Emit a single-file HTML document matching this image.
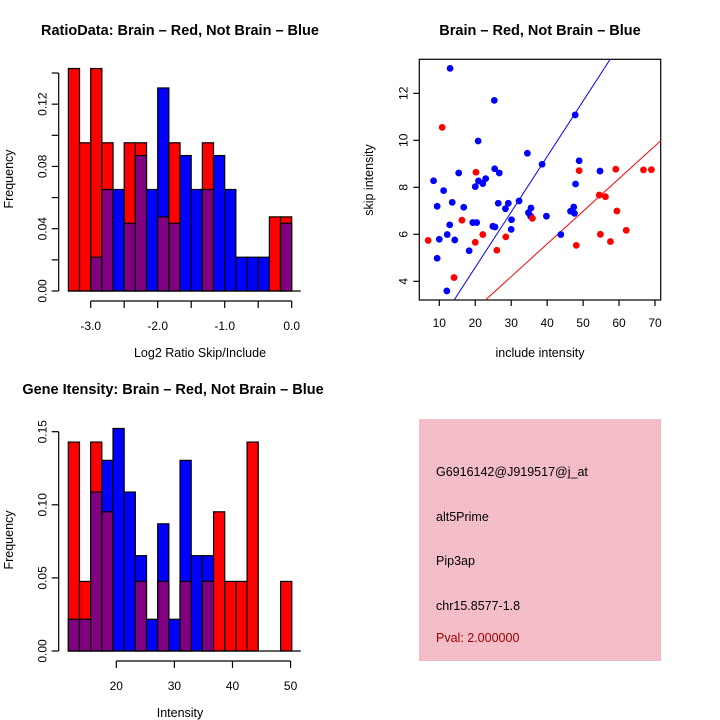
<!DOCTYPE html>
<html><head><meta charset="utf-8"><style>
html,body{margin:0;padding:0;background:#fff;}
svg{display:block;font-family:"Liberation Sans",sans-serif;}
</style></head><body>
<svg id="s" width="720" height="720" viewBox="0 0 720 720">
<defs>
<pattern id="pk" width="2" height="2" patternUnits="userSpaceOnUse"><rect width="2" height="2" fill="#f7c0cb"/><rect width="1" height="1" fill="#e8b4c0"/></pattern>
</defs>
<text x="180" y="35" text-anchor="middle" font-size="14.5" font-weight="bold">RatioData: Brain – Red, Not Brain – Blue</text>
<text x="540" y="35" text-anchor="middle" font-size="14.5" font-weight="bold">Brain – Red, Not Brain – Blue</text>
<text x="173" y="394" text-anchor="middle" font-size="14.5" font-weight="bold">Gene Itensity: Brain – Red, Not Brain – Blue</text>
<text x="200" y="357" text-anchor="middle" font-size="12.5">Log2 Ratio Skip/Include</text>
<text transform="translate(13,179) rotate(-90)" text-anchor="middle" font-size="12.5">Frequency</text>
<text x="540" y="357" text-anchor="middle" font-size="12.5">include intensity</text>
<text transform="translate(373,180) rotate(-90)" text-anchor="middle" font-size="12.5">skip intensity</text>
<text x="180" y="717" text-anchor="middle" font-size="12.5">Intensity</text>
<text transform="translate(13,540) rotate(-90)" text-anchor="middle" font-size="12.5">Frequency</text>
<g>
<rect x="419" y="419" width="242" height="242" fill="url(#pk)"/>
<text x="436" y="476" font-size="12.5">G6916142@J919517@j_at</text>
<text x="436" y="521" font-size="12.5">alt5Prime</text>
<text x="436" y="565" font-size="12.5">Pip3ap</text>
<text x="436" y="610" font-size="12.5">chr15.8577-1.8</text>
<text x="436" y="642" font-size="12.5" fill="#a00000">Pval: 2.000000</text>
</g>
<g id="g1"></g><g id="g2"></g><g id="g3"></g>
</svg>
<script>
// Ratio histogram data (20 bins, -3.333..0)
const ratioRed = [0.1429,0.0952,0.1429,0.0952,0,0.0952,0.0952,0,0.0476,0.0952,0,0,0.0952,0,0,0,0,0,0.0476,0.0476];
const ratioBlue = [0,0,0.0217,0.0652,0.0652,0.0435,0.087,0.0652,0.1304,0.0435,0.087,0.0652,0.0652,0.087,0.0652,0.0217,0.0217,0.0217,0,0.0435];
const ratioXTicks = ["-3.0","-2.0","-1.0","0.0"];
const ratioXTickVals = [-3,-2,-1,0];
const ratioYTicks = ["0.00","0.04","0.08","0.12"];
const ratioYTickVals = [0,0.04,0.08,0.12];
// Intensity histogram data (20 bins, 11.74..50.2)
const intRed = [0.1429,0.0476,0.1429,0.0952,0,0,0.0476,0,0.0476,0,0.0476,0,0.0476,0.0952,0.0476,0.0476,0.1429,0,0,0.0476];
const intBlue = [0.0217,0.0217,0.1087,0.1304,0.1522,0.1087,0.0652,0.0217,0.087,0.0217,0.1304,0.0652,0.0652,0,0,0,0,0,0,0];
const intXTicks = ["20","30","40","50"];
const intXTickVals = [20,30,40,50];
const intYTicks = ["0.00","0.05","0.10","0.15"];
const intYTickVals = [0,0.05,0.10,0.15];
// Scatter data
const blueX = [13.0,25.3,47.8,20.8,34.5,38.6,48.9,25.4,8.4,15.4,26.7,20.9,22.1,22.9,20.0,47.9,54.7,11.2,9.4,13.6,16.8,26.4,29.2,28.4,32.2,35.5,34.8,35.4,39.8,30.1,30.0,46.5,47.4,47.6,12.9,19.3,20.4,24.9,25.5,12.2,10.0,14.3,18.3,9.4,43.8,12.1];
const blueY = [13.06,11.7,11.08,9.97,9.45,8.98,9.13,8.79,8.28,8.61,8.61,8.27,8.16,8.37,8.03,8.14,8.69,7.86,7.19,7.36,7.15,7.32,7.32,7.09,7.42,7.12,6.92,6.77,6.77,6.62,6.21,6.98,7.16,6.89,6.40,6.50,6.50,6.34,6.31,5.99,5.79,5.76,5.30,4.98,5.99,3.59];
const redX = [10.8,20.2,48.9,59.1,66.8,69.0,54.5,56.2,59.4,16.3,35.9,22.1,6.9,20.0,28.5,26.0,54.8,57.6,62.0,48.1,14.1];
const redY = [10.55,8.64,8.71,8.77,8.74,8.75,7.67,7.60,6.99,6.60,6.68,5.99,5.74,5.66,5.89,5.32,6.00,5.69,6.17,5.53,4.16];
const blueFit = [-0.13,0.236];
const redFit = [0.03,0.139];
const scXTicks = ["10","20","30","40","50","60","70"];
const scXTickVals = [10,20,30,40,50,60,70];
const scYTicks = ["4","6","8","10","12"];
const scYTickVals = [4,6,8,10,12];

const NS="http://www.w3.org/2000/svg";
function mk(p,t,a){const e=document.createElementNS(NS,t);for(const k in a)e.setAttribute(k,a[k]);p.appendChild(e);return e;}

function hist(g,red,blue,x0,bw,xs,ys,xt,xtv,yt,ytv,xAxisFrom,pre){
  for(let i=0;i<red.length;i++){
    const r=red[i],b=blue[i];
    const xa=xs(x0+i*bw),xb=xs(x0+(i+1)*bw);
    const hi=Math.max(r,b),lo=Math.min(r,b);
    if(hi>0){
      const e=mk(g,'rect',{x:xa,y:ys(hi),width:xb-xa,height:ys(0)-ys(hi),fill:r>=b?'#ff0000':'#0000ff',stroke:'#000','stroke-width':1.2});
      
      
    }
    if(lo>0){
      const e=mk(g,'rect',{x:xa,y:ys(lo),width:xb-xa,height:ys(0)-ys(lo),fill:'#800080',stroke:'#000','stroke-width':1.2});
      
      
    }
  }
  const bl=mk(g,'line',{x1:xs(x0),x2:xs(x0+red.length*bw)+9,y1:ys(0),y2:ys(0),stroke:'#000','stroke-width':1.2});
  
  
  const yx=58.7;
  const ya=mk(g,'line',{x1:yx,x2:yx,y1:ys(0),y2:ys(0),stroke:'#000','stroke-width':1.2});
  
  
  const allT=ytv.slice(); if(pre==='ratio') allT.push(0.02,0.06,0.10,0.14);
  allT.forEach(v=>mk(g,'line',{x1:yx-7,x2:yx,y1:ys(v),y2:ys(v),stroke:'#000','stroke-width':1.2}));
  if(pre==='ratio'){ya.setAttribute('y2',ys(0.14));}else{ya.setAttribute('y2',ys(0.15));}
  ytv.forEach((v,i)=>{const t=mk(g,'text',{transform:`translate(${yx-12},${ys(v)}) rotate(-90)`,'text-anchor':'middle','font-size':12});t.textContent=yt[i];
    
    });
  const ay=ys(0)+10;
  const xa=mk(g,'line',{x1:xs(xtv[0]),x2:xs(xtv[xtv.length-1]),y1:ay,y2:ay,stroke:'#000','stroke-width':1.2});
  
  
  const minor=pre==='ratio'?[-3,-2.5,-2,-1.5,-1,-0.5,0]:xtv;
  minor.forEach(v=>mk(g,'line',{x1:xs(v),x2:xs(v),y1:ay,y2:ay+7,stroke:'#000','stroke-width':1.2}));
  xtv.forEach((v,i)=>{const t=mk(g,'text',{x:xs(v),y:ay+29,'text-anchor':'middle','font-size':12});t.textContent=xt[i];
    
    });
}
{
  const xs=v=>90.7+(v+3)*67; const ys=v=>291-v*1557;
  hist(document.getElementById('g1'),ratioRed,ratioBlue,-3.3333,1/6,xs,ys,ratioXTicks,ratioXTickVals,ratioYTicks,ratioYTickVals,0,'ratio');
}
{
  const xs=v=>116.3+(v-20)*5.81; const ys=v=>651-v*1462;
  hist(document.getElementById('g3'),intRed,intBlue,11.74,1.923,xs,ys,intXTicks,intXTickVals,intYTicks,intYTickVals,0,'intensity');
}
{
  const g=document.getElementById('g2');
  const xs=v=>439.3+(v-10)*3.595; const ys=v=>281.3-(v-4)*23.5;
  const L=419.3,R=660.7,T=59.3,B=300;
  mk(g,'clipPath',{id:'cp'}).appendChild(document.createElementNS(NS,'rect'));
  const cr=g.querySelector('#cp rect');cr.setAttribute('x',L);cr.setAttribute('y',T);cr.setAttribute('width',R-L);cr.setAttribute('height',B-T);
  const fr=mk(g,'rect',{x:L,y:T,width:R-L,height:B-T,fill:'none',stroke:'#000','stroke-width':1.2});
  
  
  const xlo=0,xhi=80;
  [[blueFit,'#0000ff','blue-fit-line'],[redFit,'#ff0000','red-fit-line']].forEach(([f,c,n])=>{
    const l=mk(g,'line',{x1:xs(xlo),y1:ys(f[0]+f[1]*xlo),x2:xs(xhi),y2:ys(f[0]+f[1]*xhi),stroke:c,'stroke-width':1,'clip-path':'url(#cp)'});
    
    
  });
  blueX.forEach((x,i)=>{const c=mk(g,'circle',{cx:xs(x),cy:ys(blueY[i]),r:3.4,fill:'#0000ff'});
    
    });
  redX.forEach((x,i)=>{const c=mk(g,'circle',{cx:xs(x),cy:ys(redY[i]),r:3.4,fill:'#ff0000'});
    
    });
  scXTickVals.forEach((v,i)=>{mk(g,'line',{x1:xs(v),x2:xs(v),y1:B,y2:B+6,stroke:'#000','stroke-width':1.2});
    const t=mk(g,'text',{x:xs(v),y:B+27,'text-anchor':'middle','font-size':12});t.textContent=scXTicks[i];
    
    });
  scYTickVals.forEach((v,i)=>{mk(g,'line',{x1:L-6,x2:L,y1:ys(v),y2:ys(v),stroke:'#000','stroke-width':1.2});
    const t=mk(g,'text',{transform:`translate(${L-12},${ys(v)}) rotate(-90)`,'text-anchor':'middle','font-size':12});t.textContent=scYTicks[i];
    
    });
}
</script>
</body></html>
